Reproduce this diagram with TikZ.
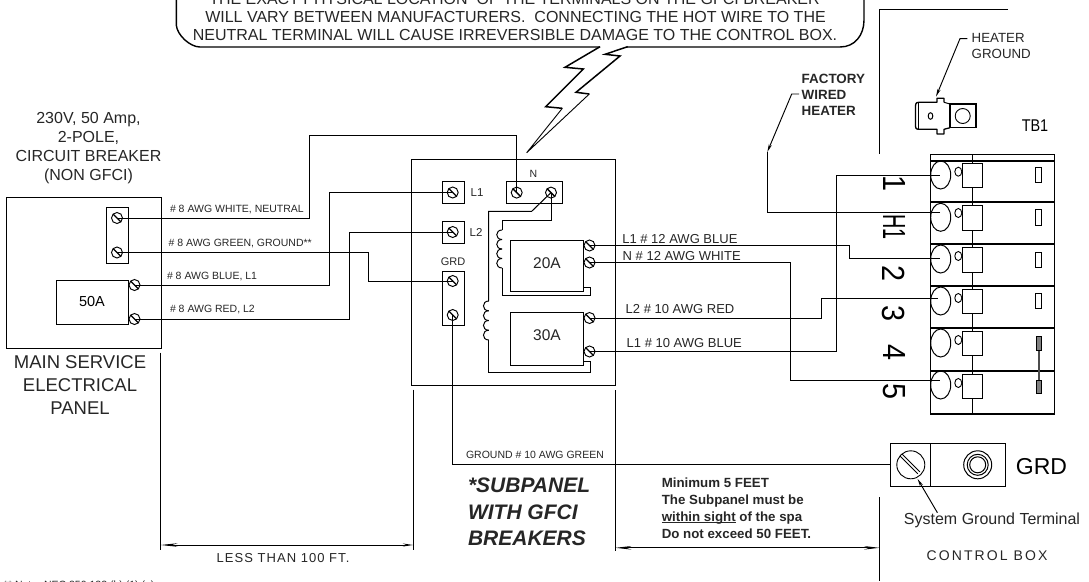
\documentclass[tikz,border=0pt]{standalone}
\usepackage{fontspec}
\setmainfont{Liberation Sans}
\newfontfamily\cadA[LetterSpace=8]{Liberation Sans}
\newfontfamily\cadB[LetterSpace=15]{Liberation Sans}
\usetikzlibrary{arrows.meta,shapes.geometric,calc}
\newcommand{\fs}[2]{\fontsize{#1}{#2}\selectfont}
\newlength\ulw
\newcommand{\ulx}[1]{\settowidth\ulw{#1}\rlap{\rule[-2pt]{\ulw}{0.9pt}}#1}
\newcommand{\boxn}[6]{%
  \pgfmathsetmacro\mybw{#4-(#2)}\pgfmathsetmacro\mybh{#5-(#3)}%
  \pgfmathsetmacro\mybx{(#2+#4)/2}\pgfmathsetmacro\myby{(#3+#5)/2}%
  \node[boxs,minimum width=\mybw pt,minimum height=\mybh pt] (#1) at (\mybx,\myby) {#6};}
\tikzset{
  lin/.style={line width=1pt,black},
  wire/.style={line width=1pt,black},
  boxs/.style={draw,line width=1pt,inner sep=0pt,outer sep=0pt},
  screw/.style={circle,draw,line width=0.95pt,minimum size=11pt,inner sep=0pt,outer sep=0pt,
    path picture={\draw[line width=1.3pt] (path picture bounding box.north west)--(path picture bounding box.south east);}},
  lab/.style={inner sep=0pt,outer sep=0pt,text=black!85},
  wl/.style={lab,anchor=west,font=\fs{10.5}{11}},
  wr/.style={lab,anchor=west,font=\fs{13}{15}},
  oval/.style={ellipse,draw,line width=1pt,minimum width=20pt,minimum height=28pt,inner sep=0pt,outer sep=0pt},
  tiny/.style={ellipse,draw,line width=0.9pt,minimum width=7pt,minimum height=9pt,inner sep=0pt,outer sep=0pt},
  num/.style={lab,rotate=-90,text=black,font=\fs{32}{32}},
  lead/.style={line width=0.95pt,-{Stealth[length=8pt,width=3.2pt]}},
}
\begin{document}
\begin{tikzpicture}[x=1pt,y=-1pt]
\useasboundingbox (0,0) rectangle (1089,581);

% warning bubble
\draw[line width=1.4pt] (176.3,-5) -- (176.3,25) .. controls (177,35) and (190,47) .. (200,47) -- (600,47);
\draw[line width=1.4pt] (626.5,47) -- (840,47) .. controls (855,47) and (864,35) .. (864,20) -- (864,-5);
\node[lab,anchor=base,font=\fs{16}{16}] (warn1) at (514.5,4) {THE EXACT PHYSICAL LOCATION\ \ OF THE TERMINALS ON THE GFCI BREAKER};
\node[lab,anchor=base,font=\fs{16}{16}] (warn2) at (515.5,22) {WILL VARY BETWEEN MANUFACTURERS.\ \ CONNECTING THE HOT WIRE TO THE};
\node[lab,anchor=base,font=\fs{16}{16}] (warn3) at (515,40) {NEUTRAL TERMINAL WILL CAUSE IRREVERSIBLE DAMAGE TO THE CONTROL BOX.};
% lightning bolt
\draw[line width=1.5pt,line join=miter] (600,46.7) -- (565,67.3) -- (583.3,69) -- (545.7,106.7) -- (562.3,108.3);
\draw[line width=0.9pt] (562.3,108.3) -- (526.7,152.7) -- (589.3,94);
\draw[line width=1.5pt,line join=miter] (589.3,94) -- (576,92.3) -- (620,56) -- (605,54.3) -- (627.7,46.7);

% main panel
\boxn{main}{6}{197}{161}{348}{}
\boxn{bar}{106}{207}{128}{263}{}
\boxn{br50}{56}{280}{128}{324}{\fs{14.5}{15}50A}
\node[screw] (pN) at (117,218) {};
\node[screw] (pG) at (117,252.5) {};
\node[screw] (b1) at (134.5,285) {};
\node[screw] (b2) at (134.5,319) {};
\node[lab,align=center,font=\fs{16}{19}] (cbtxt) at (88.5,148.5) {230V, 50 Amp,\\2-POLE,\\CIRCUIT BREAKER\\(NON GFCI)};
\node[lab,align=center,font=\fs{18.5}{23}] (mstxt) at (80,385.5) {MAIN SERVICE\\ELECTRICAL\\PANEL};

% subpanel
\boxn{sub}{411.5}{159}{615}{385}{}
\boxn{L1b}{442}{181.7}{464}{203.7}{}
\boxn{L2b}{442}{221}{464}{243}{}
\boxn{Gb}{442}{271}{464}{325}{}
\boxn{Nb}{506}{181.7}{562}{203.7}{}
\node[screw] (L1s) at (452.7,192.5) {};
\node[screw] (L2s) at (452.7,232) {};
\node[screw] (gA) at (452.7,281) {};
\node[screw] (gB) at (452.7,315) {};
\node[screw] (nA) at (516.7,192.6) {};
\node[screw] (nB) at (551,192.6) {};
\node[lab,font=\fs{10.5}{11}] (Nt) at (533.5,173.5) {N};
\node[lab,font=\fs{11.5}{12}] (L1t) at (477,193) {L1};
\node[lab,font=\fs{11.5}{12}] (L2t) at (476,232.5) {L2};
\node[lab,font=\fs{11}{12}] (Gt) at (453,262) {GRD};
\boxn{b20}{510.3}{240}{583}{291.7}{}
\boxn{b30}{510.3}{312.7}{583}{365.7}{}
\node[lab,font=\fs{15.5}{16}] (b20t) at (547,263.3) {20A};
\node[lab,font=\fs{15.5}{16}] (b30t) at (547,335) {30A};
\node[screw] (s1) at (589.5,245.5) {};
\node[screw] (s2) at (589.5,262.5) {};
\node[screw] (s3) at (589.5,318) {};
\node[screw] (s4) at (589.5,351.5) {};
% inner wiring with coils
\coordinate (c1t) at (502,230);
\coordinate (c1b) at (502,268);
\coordinate (c2t) at (488.7,301);
\coordinate (c2b) at (488.7,340);
\draw[wire] (nB.center) |- (c1t |- 0,220) -- (c1t);
\draw[wire] (c1b) -- (502,295.3) -- (590,295.3) -- (590,287.3) -- (b20.east |- 0,287.3);
\foreach \y in {230,239.5,249,258.5}
  \draw[wire] (502,\y) .. controls (495,\y) and (495,{\y+9.5}) .. (502,{\y+9.5});
\draw[wire] (nB.center) -- (531.7,211.3) -- (488.7,211.3) -- (c2t);
\draw[wire] (c2b) -- (488.7,372.7) -- (590,372.7) -- (590,361.7) -- (b30.east |- 0,361.7);
\foreach \y in {301,310.75,320.5,330.25}
  \draw[wire] (488.7,\y) .. controls (481.7,\y) and (481.7,{\y+9.75}) .. (488.7,{\y+9.75});

% wires main -> sub
\draw[wire] (pN.center) -| (309,135.7) -| (nA.center);
\draw[wire] (pG.center) -| (368.7,281) -- (gA.center);
\draw[wire] (b1.center) -| (329,192.5) -- (L1s.center);
\draw[wire] (b2.center) -| (349,232) -- (L2s.center);
\node[wl] (w1) at (170,209.3) {\# 8 AWG WHITE, NEUTRAL};
\node[wl] (w2) at (168.7,244) {\# 8 AWG GREEN, GROUND**};
\node[wl] (w3) at (167,276.3) {\# 8 AWG BLUE, L1};
\node[wl] (w4) at (170,309.3) {\# 8 AWG RED, L2};

% terminal block TB1
\draw[lin] (930.7,154.3) rectangle (1054,414);
\draw[lin] (972.7,154.3) -- (972.7,414);
\foreach \y in {161,202,243.7,285.7,328.3,371}
  \draw[line width=1.9pt] (930.7,\y) -- (1054,\y);
\draw[line width=1.5pt] (930.7,414) -- (1054,414);
\foreach \n/\y in {1/175,2/217.3,3/259,4/301,5/343,6/385}
  \node[oval] (t\n) at (940.7,\y) {};
\foreach \n/\y in {1/171.7,2/213,3/256,4/298,5/340,6/383}
  \node[tiny] (o\n) at (958.3,\y) {};
\foreach \a/\b in {163.3/187,205/230,247.3/272,289.3/313.7,331.7/355.7,374.3/398.3}
  \draw[lin,fill=white] (962.7,\a) rectangle (982.3,\b);
\foreach \a/\b in {167.7/182.7,209/225,252/267,293.3/308.3}
  \draw[lin] (1035.7,\a) rectangle (1041.3,\b);
\draw[line width=2pt,black!70] (1038.5,340) -- (1038.5,390);
\foreach \a/\b in {336.7/350.7,380/393.3}
  \draw[line width=0.8pt,fill=black!50] (1036,\a) rectangle (1041,\b);
\node[num] (n1) at (894,183.3) {\scalebox{0.9}[1]{1}};
\node[num] (n2) at (894,226.7) {\scalebox{0.62}[1]{H1}};
\node[num] (n3) at (894,274) {\scalebox{0.9}[1]{2}};
\node[num] (n4) at (894,313.3) {\scalebox{0.9}[1]{3}};
\node[num] (n5) at (894,352.7) {\scalebox{0.9}[1]{4}};
\node[num] (n6) at (894,391.7) {\scalebox{0.9}[1]{5}};
\node[lab,font=\fs{17}{17},text=black] (tb) at (1035,126) {\scalebox{0.85}[1]{TB1}};

% wires sub -> TB1
\coordinate (e1) at (940,175.3);
\coordinate (e2) at (940,212);
\coordinate (e3) at (940,258.3);
\coordinate (e4) at (938,298.7);
\coordinate (e6) at (940,380);
\draw[wire] (s1.center) -| (849,258.3) -- (e3);
\draw[wire] (s2.center) -| (790.7,380) -- (e6);
\draw[wire] (s3.center) -| (821,298.7) -- (e4);
\draw[wire] (s4.center) -| (836.3,175.3) -- (e1);
\node[wr] (r1) at (622.3,239.3) {L1 \# 12 AWG BLUE};
\node[wr] (r2) at (622.7,256.3) {N \# 12 AWG WHITE};
\node[wr] (r3) at (625.7,309.3) {L2 \# 10 AWG RED};
\node[wr] (r4) at (626.7,343.3) {L1 \# 10 AWG BLUE};

% factory wired heater
\node[lab,anchor=west,align=left,font=\bfseries\fs{13.4}{16}] (fw) at (801.7,95) {FACTORY\\WIRED\\HEATER};
\coordinate (fwa) at (799,94);
\coordinate (fwb) at (791.7,94);
\coordinate (fwc) at (767.3,152);
\draw[wire] (e2) -| (fwc);
\draw[lead] (fwa) -- (fwb) -- (fwc);

% heater ground lug
\node[lab,anchor=west,align=left,font=\fs{13.3}{16}] (hg) at (971.7,46.3) {HEATER\\GROUND};
\coordinate (hga) at (967.3,38.6);
\coordinate (hgb) at (960,38.6);
\coordinate (hgc) at (936,96.7);
\draw[lead] (hga) -- (hgb) -- (hgc);
\draw[line width=1.3pt,line join=round] (944,102.3) -- (944,98.3) -- (937,98.3) -- (937,102.3) -- (919,102.3)
  .. controls (915.5,102.3) and (915.5,104) .. (915.5,108) -- (915.5,124)
  .. controls (915.5,128) and (915.5,129.3) .. (919,129.3) -- (937,129.3) -- (937,134) -- (944,134) -- (944,129.3) -- (950,127.7);
\draw[line width=0.9pt] (918,103) -- (918,129);
\draw[line width=1pt] (944,102.3) -- (950,104);
\draw[line width=1.2pt] (950,104) rectangle (976,127.7);
\draw[line width=0.9pt] (962.7,116) circle[radius=7.5];
\draw[line width=1pt] (930.5,116) ellipse[x radius=2.3,y radius=3.3];

% control box outline
\coordinate (cb1) at (1008,9);
\coordinate (cb2) at (879.3,9);
\coordinate (cb3) at (879.3,154.3);
\coordinate (cb4) at (879.3,497);
\coordinate (cb5) at (879.3,581);
\draw[lin] (cb1) -- (cb2) -- (cb3);
\draw[lin] (cb4) -- (cb5);

% ground terminal block
\boxn{grd}{890}{443}{1005.7}{486}{}
\draw[lin] (930.4,443) -- (930.4,486);
\node[circle,draw,line width=0.9pt,minimum size=28pt,inner sep=0pt,outer sep=0pt] (gs) at (910.8,464.8) {};
\draw[line width=0.9pt] ($(gs.center)+(-9,-11)$) -- ($(gs.center)+(9,7)$);
\draw[line width=0.9pt] ($(gs.center)+(-11,-9)$) -- ($(gs.center)+(7,9)$);
\node[circle,draw,line width=1pt,minimum size=28pt,inner sep=0pt] (gr1) at (977.7,464.8) {};
\draw[line width=1pt] (gr1.center) circle[radius=10.5];
\draw[line width=1pt] (gr1.center) circle[radius=8];
\node[lab,font=\fs{23}{23},text=black] (grdt) at (1041.5,467) {GRD};
\draw[wire] (gB.center) |- (grd.west);
\node[wl] (gl) at (466,454.5) {GROUND \# 10 AWG GREEN};
\node[lab,font=\fs{16}{17}] (sgt) at (992,520.8) {System Ground Terminal};
\coordinate (sga) at (937.4,512.7);
\coordinate (sgb) at (917.5,478.8);
\draw[lead] (sga) -- (sgb);
\node[lab,font=\cadB\fs{14}{14}] (cbx) at (987,555.8) {CONTROL BOX};

% subpanel captions
\node[lab,anchor=west,align=left,font=\bfseries\itshape\fs{21}{26.7}] (spt) at (468,512) {*SUBPANEL\\WITH GFCI\\BREAKERS};
\node[lab,anchor=west,align=left,font=\bfseries\fs{13.3}{17}] (mint) at (661.8,508) {Minimum 5 FEET\\The Subpanel must be\\\ulx{within sight} of the spa\\Do not exceed 50 FEET.};

% dimensions
\coordinate (d1t) at (160.5,352.7);
\coordinate (d1b) at (160.5,550);
\coordinate (d2t) at (413,389.7);
\coordinate (d2b) at (413,550);
\draw[lin] (d1t) -- (d1b);
\draw[lin] (d2t) -- (d2b);
\draw[line width=1pt,{Stealth[length=17pt,width=3.5pt]}-{Stealth[length=10pt,width=3pt]}] (160.5,545) -- (413,545);
\node[lab,font=\cadA\fs{13}{13}] (ltxt) at (283,557.6) {LESS THAN 100 FT.};
\coordinate (d3t) at (615.3,390);
\coordinate (d3b) at (615.3,551);
\draw[lin] (d3t) -- (d3b);
\draw[line width=1pt,{Stealth[length=16pt,width=3.5pt]}-{Stealth[length=15pt,width=3.5pt]}] (615.3,547.8) -- (879.3,547.8);

% clipped footnote
\node[lab,anchor=base west,font=\fs{10.5}{11}] (fn) at (4,588.5) {** Note: NEC 250.122 (b) (1) (a)};
\end{tikzpicture}
\end{document}
